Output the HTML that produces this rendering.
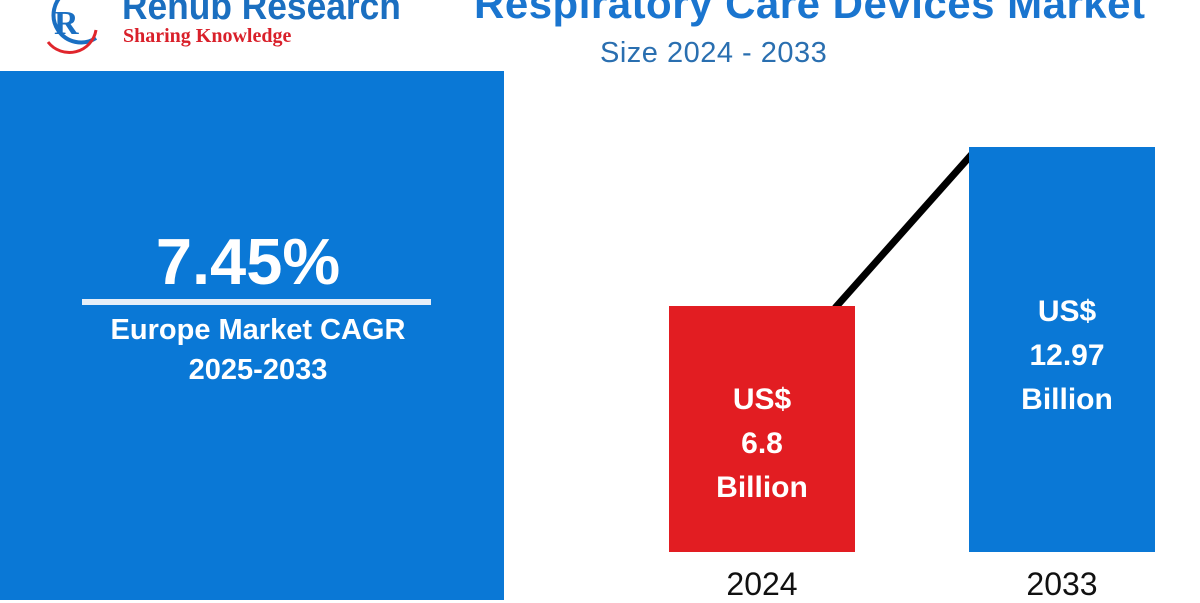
<!DOCTYPE html>
<html><head><style>
body{margin:0;width:1200px;height:600px;overflow:hidden;background:#fff;font-family:"Liberation Sans",sans-serif;position:relative}
.a{position:absolute}
.w{color:#fff;font-weight:bold;text-align:center}
</style></head><body>
<svg class="a" style="left:38px;top:0" width="66" height="56"><path d="M28 -8 A26 26 0 1 0 58 38" fill="none" stroke="#1a6fc2" stroke-width="4"/><path d="M10 42 A27 27 0 0 0 58 30" fill="none" stroke="#e0262c" stroke-width="3"/><text x="16" y="34" font-size="34" font-weight="bold" fill="#1a6fc2" font-family="Liberation Serif">R</text></svg>
<div class="a" style="left:122px;top:-14px;font-size:38px;font-weight:bold;color:#1b6fc0;transform:scaleX(0.93);transform-origin:left">Renub Research</div>
<div class="a" style="left:123px;top:25px;font-size:20px;font-weight:bold;color:#d9202a;font-family:'Liberation Serif',serif">Sharing Knowledge</div>
<div class="a" style="left:474px;top:-20px;font-size:42px;font-weight:bold;color:#1a75cf;white-space:nowrap;letter-spacing:0.5px">Respiratory Care Devices Market</div>
<div class="a" style="left:600px;top:37px;font-size:29px;color:#2a6fb0;letter-spacing:0.5px">Size 2024 - 2033</div>
<div class="a" style="left:0;top:71px;width:504px;height:529px;background:#0a78d6"></div>
<div class="a w" style="left:0;top:224px;width:496px;font-size:65px">7.45%</div>
<div class="a" style="left:82px;top:299px;width:349px;height:6px;background:#e6eef8"></div>
<div class="a w" style="left:0;top:310px;width:516px;font-size:29px;line-height:40px">Europe Market CAGR<br>2025-2033</div>
<svg class="a" style="left:0;top:0" width="1200" height="600"><line x1="835" y1="308" x2="972" y2="154" stroke="#000" stroke-width="7"/></svg>
<div class="a" style="left:669px;top:306px;width:186px;height:246px;background:#e21d22"></div>
<div class="a" style="left:969px;top:147px;width:186px;height:405px;background:#0a78d6"></div>
<div class="a w" style="left:669px;top:378px;width:186px;font-size:30px;line-height:44px">US$<br>6.8<br>Billion</div>
<div class="a w" style="left:969px;top:290px;width:196px;font-size:30px;line-height:44px">US$<br>12.97<br>Billion</div>
<div class="a" style="left:669px;top:566px;width:186px;text-align:center;font-size:32px;color:#111">2024</div>
<div class="a" style="left:969px;top:566px;width:186px;text-align:center;font-size:32px;color:#111">2033</div>
</body></html>
